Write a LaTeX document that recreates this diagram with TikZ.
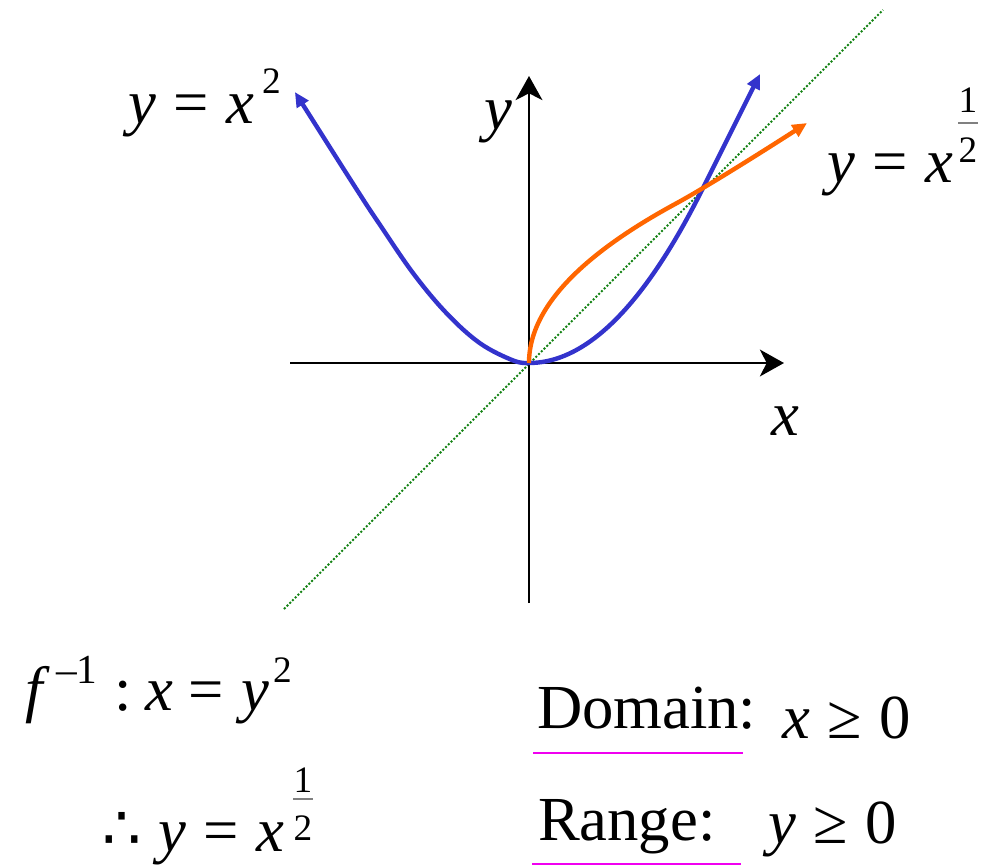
\documentclass[tikz,border=0pt]{standalone}
\usepackage{fontspec}
\setmainfont{Liberation Serif}[ItalicFont={Liberation Serif Italic}]
\newfontfamily\symfont{DejaVu Sans}
\usetikzlibrary{arrows.meta}
\definecolor{pblue}{RGB}{51,51,204}
\definecolor{porange}{RGB}{255,102,0}
\definecolor{pgreen}{RGB}{20,130,20}
\definecolor{pmag}{RGB}{240,0,240}
\begin{document}
\begin{tikzpicture}[x=0.75pt,y=-0.75pt,
  txt/.style={inner sep=0pt,outer sep=0pt,anchor=base west,font=\fontsize{47}{56}\selectfont},
  supt/.style={inner sep=0pt,outer sep=0pt,anchor=base west,font=\fontsize{28}{32}\selectfont},
  axisline/.style={line width=2.2pt,-{Stealth[length=18pt,width=20pt,inset=5pt]}},
  curveline/.style={line width=3.3pt},
  diag/.style={pgreen,line width=1.5pt,dash pattern=on 1.5pt off 1.4pt},
  uline/.style={pmag,line width=1.5pt},
  fracbar/.style={gray,line width=0.8pt}]
\useasboundingbox (0,0) rectangle (983,868);
% axes and diagonal
\coordinate (O) at (529,363);
\coordinate (xl) at (290,363);
\coordinate (xr) at (784,363);
\coordinate (yb) at (529,603);
\coordinate (yt) at (529,76);
\coordinate (dl) at (284,609);
\coordinate (dr) at (883,10);
\draw[diag] (dl) -- (dr);
\draw[axisline] (xl) -- (xr);
\draw[axisline] (yb) -- (yt);
% curves
\begin{scope}[shift={(O)},x=129.75pt,y=129.75pt]
\draw[curveline,pblue,{Triangle[length=11pt,width=10pt]}-{Triangle[length=11pt,width=10pt]}]
  plot[smooth,tension=0.6] coordinates {(-1.353,1.566) (-0.994,1.0) (-0.861,0.798) (-0.669,0.518) (-0.476,0.287) (-0.283,0.114) (-0.09,0.014) (0,0)}
  -- plot[domain=0:1,samples=40] (\x,{\x*\x}) -- (1.335,1.67);
\draw[curveline,porange,-{Triangle[length=11pt,width=10pt]}]
  plot[domain=0:0.92,samples=60,variable=\t] ({\t*\t},\t) .. controls (1.0,1.003) and (1.3,1.19) .. (1.607,1.387);
\end{scope}
% labels
\node[txt] (lblA) at (128,123) {\textit{y}\hspace{0.28em}=\hspace{0.28em}\textit{x}};
\node[supt] (lblAexp) at (262,93) {2};
\node[txt] (ylab) at (484,129) {\textit{y}};
\node[txt] (xlab) at (771,435) {\textit{x}};
\node[txt] (lblB) at (827,182) {\textit{y}\hspace{0.28em}=\hspace{0.28em}\textit{x}};
\node[supt,anchor=base] (lblBnum) at (968,112) {1};
\draw[fracbar] (958,123) -- (978,123);
\node[supt,anchor=base] (lblBden) at (968,162) {2};
% inverse
\node[txt] (finv) at (26,710) {\textit{f}};
\node[supt,font=\fontsize{31}{34}\selectfont] (finvexp) at (56,683) {–1};
\node[txt] (finveq) at (114,710) {:\hspace{0.22em}\textit{x}\hspace{0.25em}=\hspace{0.28em}\textit{y}};
\node[supt] (finvsq) at (273,682) {2};
\node[txt,font=\fontsize{46}{50}\symfont] (ther) at (102,849) {∴};
\node[txt] (thereq) at (158,851) {\textit{y}\hspace{0.28em}=\hspace{0.28em}\textit{x}};
\node[supt,anchor=base] (thernum) at (303,792) {1};
\draw[fracbar] (293,799) -- (313,799);
\node[supt,anchor=base] (therden) at (303,840) {2};
% domain and range
\node[txt] (dom) at (537,728) {Domain:};
\node[txt] (domv) at (782,738) {\textit{x}\hspace{0.28em}≥\hspace{0.28em}0};
\draw[uline] (533,753) -- (743,753);
\node[txt] (rng) at (538,840) {Range:};
\node[txt] (rngv) at (768,843) {\textit{y}\hspace{0.28em}≥\hspace{0.28em}0};
\draw[uline] (532,864) -- (741,864);
\end{tikzpicture}
\end{document}
